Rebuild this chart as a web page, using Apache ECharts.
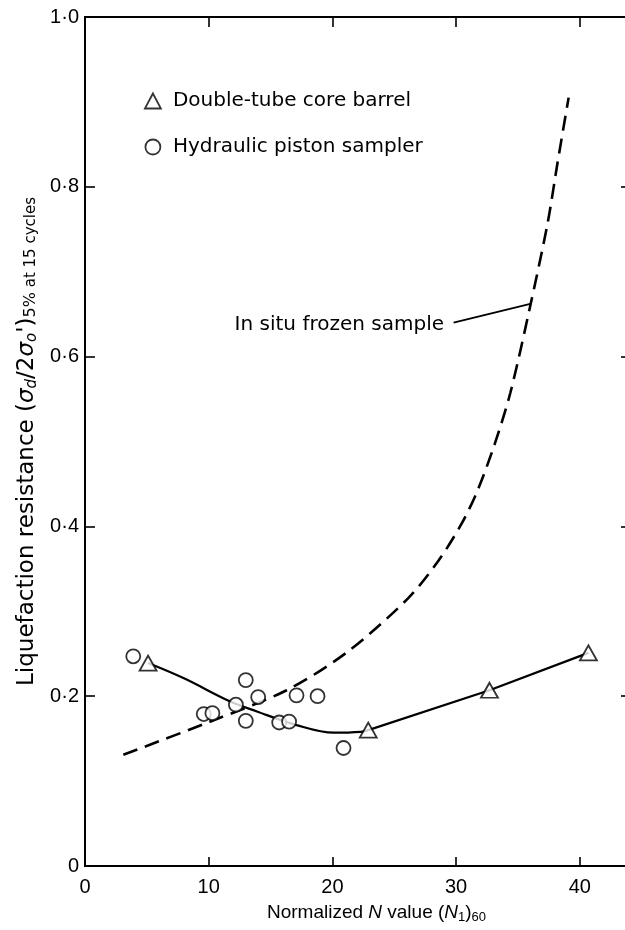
<!DOCTYPE html>
<html>
<head>
<meta charset="utf-8">
<script src="https://cdn.jsdelivr.net/npm/echarts@6/dist/echarts.min.js"></script>
<style>
  html, body { margin: 0; padding: 0; background: #ffffff; }
  #chart { width: 625px; height: 930px; }
</style>
</head>
<body>
<div id="chart"></div>
<script>
// Hydraulic piston sampler results: [(N1)60, cyclic resistance]
const pistonSampler = [
  [3.9, 0.247], [9.6, 0.179], [10.3, 0.180], [12.2, 0.190], [13.0, 0.219],
  [13.0, 0.171], [14.0, 0.199], [15.7, 0.169], [16.5, 0.170], [17.1, 0.201],
  [18.8, 0.200], [20.9, 0.139]
];
// Double-tube core barrel results
const coreBarrel = [[5.1, 0.239], [22.9, 0.160], [32.7, 0.207], [40.7, 0.251]];
// Trend through the core barrel results (curved part, then straight segments)
const coreBarrelCurve = [
  [5.1, 0.239], [8.0, 0.221], [11.7, 0.194], [13.9, 0.182], [17.1, 0.166],
  [20.1, 0.157], [22.3, 0.158], [22.9, 0.160]
];
const coreBarrelLinear = [[22.9, 0.160], [32.7, 0.207], [40.7, 0.251]];
// In situ frozen sample trend
const frozenSample = [
  [3.1, 0.131], [10.1, 0.170], [16.3, 0.207], [21.2, 0.252], [26.1, 0.315],
  [28.5, 0.358], [30.4, 0.402], [31.7, 0.441], [33.1, 0.496], [34.4, 0.558],
  [36.0, 0.660], [37.4, 0.757], [38.2, 0.828], [39.1, 0.905]
];
// Leader line for the frozen-sample callout
const frozenLeader = [[29.8, 0.640], [36.0, 0.662]];

// Tick positions along the frame
const xTicks = [10, 20, 30, 40];
const yTicks = [0.2, 0.4, 0.6, 0.8];

const xTickStep = 10;
const yTickStep = 0.2;
const xMax = 43.9;
const yMax = 1.0;

const gridW = 543;
const gridH = 849;

const tickFont = 'Liberation Sans, Arial, sans-serif';
const textFont = 'DejaVu Sans, sans-serif';

function yLabel(v) {
  if (v === 0) return '0';
  return v.toFixed(1).replace('.', '\u00b7');
}

// Inward tick marks drawn as short segments; lengths given in pixels
const pxX = xMax / gridW;
const pxY = yMax / gridH;
const tickSegs = [];
const tickLine = { color: '#000', width: 1.6, type: 'solid' };
xTicks.forEach(v => {
  tickSegs.push([{ coord: [v, 0], lineStyle: tickLine }, { coord: [v, 9 * pxY] }]);
  tickSegs.push([{ coord: [v, yMax], lineStyle: tickLine }, { coord: [v, yMax - 10 * pxY] }]);
});
yTicks.forEach(v => {
  tickSegs.push([{ coord: [0, v], lineStyle: tickLine }, { coord: [10 * pxX, v] }]);
  tickSegs.push([{ coord: [xMax, v], lineStyle: tickLine }, { coord: [xMax - 7 * pxX, v] }]);
});

const chart = echarts.init(document.getElementById('chart'), null, { renderer: 'canvas' });

const hollow = { color: '#ffffff', borderColor: '#000000', borderWidth: 1.8 };

chart.setOption({
  backgroundColor: '#ffffff',
  animation: false,
  // The plot frame is the grid border; its right side falls just past the page edge
  grid: {
    left: 85, top: 17, width: gridW, height: gridH,
    outerBoundsMode: 'none', containLabel: false,
    show: true, borderColor: '#000', borderWidth: 2, backgroundColor: 'transparent'
  },
  legend: {
    orient: 'vertical',
    left: 139,
    top: 86,
    itemWidth: 16,
    itemHeight: 15,
    itemGap: 26,
    selectedMode: false,
    textStyle: { fontFamily: textFont, fontSize: 20, color: '#000', padding: [0, 0, 0, 7] },
    data: [
      { name: 'Double-tube core barrel', icon: 'triangle', itemStyle: hollow },
      { name: 'Hydraulic piston sampler', icon: 'circle', itemStyle: hollow }
    ]
  },
  xAxis: {
    type: 'value', position: 'bottom', min: 0, max: xMax, interval: xTickStep,
    axisLine: { show: false, onZero: false },
    axisTick: { show: false },
    axisLabel: {
      margin: 11, color: '#000', fontFamily: tickFont, fontSize: 20, showMaxLabel: false,
      formatter: v => (v % 10 === 0 ? String(v) : '')
    },
    splitLine: { show: false },
    name: '{t|Normalized }{i|N}{t| value (}{i|N}{s|1}{t|)}{s|60}',
    nameLocation: 'middle',
    nameGap: 36,
    nameTextStyle: {
      padding: [0, 0, 0, 40],
      rich: {
        t: { fontFamily: tickFont, fontSize: 19, color: '#000' },
        i: { fontFamily: tickFont, fontSize: 19, fontStyle: 'italic', color: '#000' },
        s: { fontFamily: tickFont, fontSize: 13, color: '#000', padding: [9, 0, 0, 0] }
      }
    }
  },
  yAxis: {
    type: 'value', position: 'left', min: 0, max: yMax, interval: yTickStep,
    axisLine: { show: false, onZero: false },
    axisTick: { show: false },
    axisLabel: { margin: 6, color: '#000', fontFamily: tickFont, fontSize: 20, formatter: yLabel },
    splitLine: { show: false },
    name: "{t|Liquefaction resistance (}{i|\u03c3}{s|d}{t|/2}{i|\u03c3}{s|o}{t|')}{p|5%}{q| at 15 cycles}",
    nameLocation: 'middle',
    nameRotate: 90,
    nameGap: 39,
    nameTextStyle: {
      rich: {
        t: { fontFamily: textFont, fontSize: 23, color: '#000' },
        i: { fontFamily: textFont, fontSize: 23, fontStyle: 'italic', color: '#000' },
        s: { fontFamily: textFont, fontSize: 15, fontStyle: 'italic', color: '#000', padding: [10, 0, 0, 0] },
        p: { fontFamily: textFont, fontSize: 16, color: '#000', padding: [9, 0, 0, 0] },
        q: { fontFamily: textFont, fontSize: 15, color: '#000', padding: [9, 0, 0, 0] }
      }
    }
  },
  graphic: [
    {
      type: 'text',
      x: 444, y: 325,
      style: {
        text: 'In situ frozen sample',
        fontFamily: textFont, fontSize: 20, fill: '#000',
        align: 'right', verticalAlign: 'middle'
      }
    }
  ],
  series: [
    {
      name: 'In situ frozen sample',
      type: 'line',
      data: frozenSample, smooth: 0.3, showSymbol: false,
      lineStyle: { color: '#000', width: 2.6, type: [15, 8] },
      z: 2,
      markLine: {
        silent: true, symbol: 'none', animation: false,
        label: { show: false },
        lineStyle: { color: '#000', width: 1.8, type: 'solid' },
        data: [[{ coord: frozenLeader[0] }, { coord: frozenLeader[1] }]].concat(tickSegs)
      }
    },
    {
      name: 'trend-curve',
      type: 'line', data: coreBarrelCurve, smooth: 0.35, showSymbol: false,
      lineStyle: { color: '#000', width: 2.2 }, z: 2
    },
    {
      name: 'trend-linear',
      type: 'line', data: coreBarrelLinear, smooth: false, showSymbol: false,
      lineStyle: { color: '#000', width: 2.2 }, z: 2
    },
    {
      name: 'Hydraulic piston sampler',
      type: 'scatter', data: pistonSampler, symbol: 'circle', symbolSize: 14,
      itemStyle: hollow, z: 3
    },
    {
      name: 'Double-tube core barrel',
      type: 'scatter', data: coreBarrel, symbol: 'triangle', symbolSize: [17, 15],
      itemStyle: hollow, z: 4
    }
  ]
});
</script>
</body>
</html>
